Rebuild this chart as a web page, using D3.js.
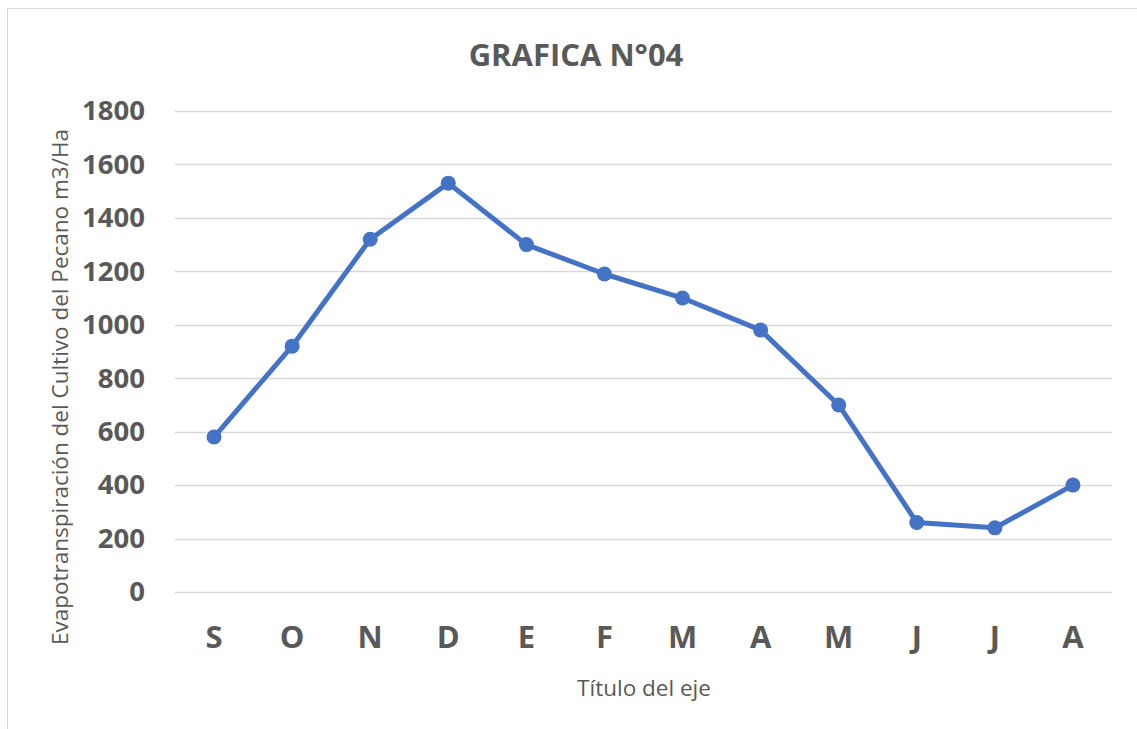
<!DOCTYPE html>
<html>
<head>
<meta charset="utf-8">
<script src="https://cdn.jsdelivr.net/npm/d3@7"></script>
<style>
  body { margin: 0; background: #fff; }
  text { font-family: "Open Sans", sans-serif; fill: #595959; }
</style>
</head>
<body>
<div class="chart"></div>
<script>
const months = ['S', 'O', 'N', 'D', 'E', 'F', 'M', 'A', 'M', 'J', 'J', 'A'];
const values = [580, 920, 1320, 1530, 1300, 1190, 1100, 980, 700, 260, 240, 400];
const yTicks = [0, 200, 400, 600, 800, 1000, 1200, 1400, 1600, 1800];

const W = 1137, H = 729;
const margin = {top: 111, right: 25, bottom: 137, left: 175};
const width = 1112 - margin.left,
      height = 592 - margin.top;

const svg = d3.select('.chart')
              .append('svg')
              .attr('width', W)
              .attr('height', H);

// outer chart border
svg.append('rect')
   .attr('x', 7.5).attr('y', 8.5)
   .attr('width', W + 10).attr('height', H + 10)
   .attr('fill', 'none')
   .attr('stroke', '#d9d9d9');

const g = svg.append('g')
             .attr('transform', `translate(${margin.left},${margin.top})`);

// index-based band so the repeated letters stay separate
const xScale = d3.scaleBand()
                 .domain(months.map((m, i) => i))
                 .range([0, width]);
const yScale = d3.scaleLinear()
                 .domain([0, 1800])
                 .range([height, 0]);

// gridlines
g.append('g')
 .selectAll('line')
 .data(yTicks)
 .enter()
 .append('line')
 .attr('x1', 0).attr('x2', width)
 .attr('y1', d => Math.round(yScale(d)) + 0.5)
 .attr('y2', d => Math.round(yScale(d)) + 0.5)
 .attr('stroke', '#d9d9d9')
 .attr('stroke-width', 1.3);

const yAxis = d3.axisLeft(yScale)
                .tickValues(yTicks)
                .tickFormat(d3.format('d'))
                .tickSize(0)
                .tickPadding(30);
g.append('g')
 .attr('class', 'axis y-axis')
 .call(yAxis)
 .call(a => a.select('.domain').remove())
 .selectAll('text')
 .attr('font-size', 27.5)
 .attr('font-weight', 'bold')
 .style('fill', '#595959');

const xAxis = d3.axisBottom(xScale).tickFormat(i => months[i]).tickSize(0).tickPadding(34);
g.append('g')
 .attr('class', 'axis x-axis')
 .attr('transform', `translate(0,${height})`)
 .call(xAxis)
 .call(a => a.select('.domain').remove())
 .selectAll('text')
 .attr('font-size', 31)
 .attr('font-weight', 'bold')
 .style('fill', '#595959');

const cx = (d, i) => xScale(i) + xScale.bandwidth() / 2;

const line = d3.line()
               .x((d, i) => cx(d, i))
               .y(d => yScale(d));

g.append('path')
 .datum(values)
 .attr('d', line)
 .attr('fill', 'none')
 .attr('stroke', '#4472C4')
 .attr('stroke-width', 5)
 .attr('stroke-linejoin', 'round');

g.selectAll('circle')
 .data(values)
 .enter()
 .append('circle')
 .attr('cx', cx)
 .attr('cy', d => yScale(d))
 .attr('r', 7.5)
 .attr('fill', '#4472C4');

// title
svg.append('text')
   .attr('x', 576)
   .attr('y', 66)
   .attr('text-anchor', 'middle')
   .attr('font-size', 31)
   .attr('font-weight', 'bold')
   .text('GRAFICA N°04');

// axis titles
svg.append('text')
   .attr('transform', 'translate(68,387) rotate(-90)')
   .attr('text-anchor', 'middle')
   .attr('font-size', 22.5)
   .text('Evapotranspiración del Cultivo del Pecano m3/Ha');

svg.append('text')
   .attr('x', 644)
   .attr('y', 696)
   .attr('text-anchor', 'middle')
   .attr('font-size', 22.5)
   .text('Título del eje');
</script>
</body>
</html>
